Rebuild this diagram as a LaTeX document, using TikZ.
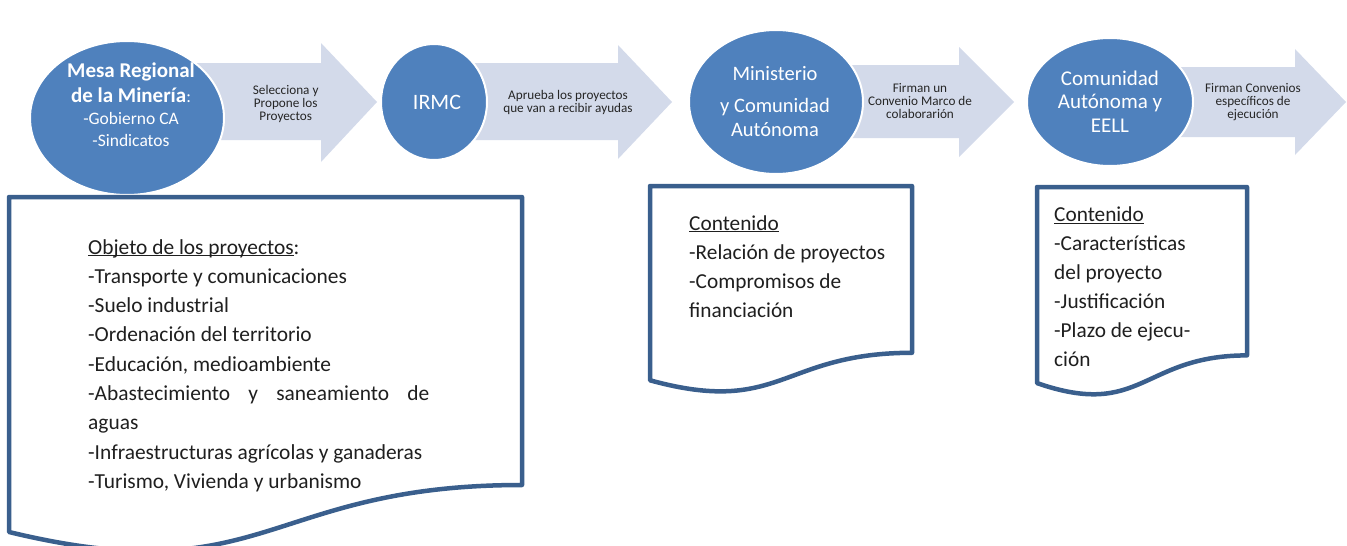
\documentclass[tikz,border=0pt]{standalone}
\usepackage{fontspec}
\setmainfont{Carlito}
\usetikzlibrary{shapes.geometric}
\definecolor{circfill}{HTML}{4F81BD}
\definecolor{arrfill}{HTML}{D3DAEA}
\definecolor{docline}{HTML}{3A5F8D}
\newcommand\myfs[2]{\fontsize{#1}{#2}\selectfont}
\newcommand\myul[1]{\leavevmode\setbox0\hbox{#1}\rlap{\rule[-2.2pt]{\wd0}{1.2pt}}\box0}
\begin{document}
\begin{tikzpicture}[x=1pt,y=-1pt,
  circ/.style={ellipse, fill=circfill, draw=white, line width=2pt, inner sep=0pt},
  ctext/.style={anchor=base, inner sep=0pt, text=white},
  atext/.style={anchor=base, inner sep=0pt, text=black!85},
  arrowbody/.style={fill=arrfill},
  doc/.style={draw=docline, line width=4.5pt, fill=white, line join=round},
  dtext/.style={anchor=base west, inner sep=0pt, text=black!88}]
\useasboundingbox (0,0) rectangle (1347,546);

% block arrows
\fill[arrowbody] (180,63) -- (321,63) -- (321,43) -- (377,102) -- (321,162) -- (321,140) -- (180,140) -- cycle;
\fill[arrowbody] (450,63) -- (618,63) -- (618,45) -- (672,102) -- (618,159) -- (618,140) -- (450,140) -- cycle;
\fill[arrowbody] (830,65) -- (959,65) -- (959,47) -- (1014,102) -- (959,157) -- (959,138) -- (830,138) -- cycle;
\fill[arrowbody] (1160,67) -- (1295,67) -- (1295,49) -- (1346,102) -- (1295,155) -- (1295,137) -- (1160,137) -- cycle;

% circles
\node[circ, minimum width=194pt, minimum height=154pt] (mesa) at (127,118) {};
\node[circ, minimum width=106pt, minimum height=116pt] (irmc) at (434,102) {};
\node[circ, minimum width=174pt, minimum height=144pt] (mini) at (776,102) {};
\node[circ, minimum width=166pt, minimum height=128pt] (ccaa) at (1110,102) {};

% circle texts
\node[ctext, font=\myfs{17.5}{22}] (mesat) at (131,77) {\begin{tabular}[t]{@{}c@{}}\myfs{21}{22}\bfseries Mesa Regional\\[3.5pt] {\myfs{21}{22}\bfseries de la Minería}:\\ -Gobierno CA\\ -Sindicatos\end{tabular}};
\node[ctext, font=\myfs{22}{26}] (irmct) at (437,109) {IRMC};
\node[ctext, font=\myfs{20.5}{23.5}] (minit) at (775,80) {\begin{tabular}[t]{@{}c@{}}Ministerio\\[9pt] y Comunidad\\ Autónoma\end{tabular}};
\node[ctext, font=\myfs{21}{23.5}] (ccaat) at (1110,85) {\begin{tabular}[t]{@{}c@{}}Comunidad\\ Autónoma y\\ EELL\end{tabular}};

% arrow texts
\node[atext, font=\myfs{13.2}{13.3}] (a1t) at (285.7,94.3) {\begin{tabular}[t]{@{}c@{}}Selecciona y\\ Propone los\\ Proyectos\end{tabular}};
\node[atext, font=\myfs{13.2}{13.3}] (a2t) at (568,99) {\begin{tabular}[t]{@{}c@{}}Aprueba los proyectos\\ que van a recibir ayudas\end{tabular}};
\node[atext, font=\myfs{13.2}{13.3}] (a3t) at (920,92.3) {\begin{tabular}[t]{@{}c@{}}Firman un\\ Convenio Marco de\\ colaborarión\end{tabular}};
\node[atext, font=\myfs{13.2}{13.3}] (a4t) at (1253,92.3) {\begin{tabular}[t]{@{}c@{}}Firman Convenios\\ específicos de\\ ejecución\end{tabular}};

% documents
\draw[doc] (9,197) -- (522,197) -- (522,485) .. controls (265.5,485) and (265.5,594) .. (9,532) -- cycle;
\draw[doc] (650,186) -- (912,186) -- (912,352.8) .. controls (781,352.8) and (781,416.3) .. (650,380.3) -- cycle;
\draw[doc] (1037,187) -- (1247,187) -- (1247,355.4) .. controls (1142,355.4) and (1142,419.5) .. (1037,383.1) -- cycle;

% document texts
\node[dtext, font=\myfs{21.4}{29.3}] (objeto) at (88,254) {\begin{tabular}[t]{@{}l@{}}\myul{Objeto de los proyectos}:\\ -Transporte y comunicaciones\\ -Suelo industrial\\ -Ordenación del territorio\\ -Educación, medioambiente\\ \hbox to 341pt{-Abastecimiento\hfill y\hfill saneamiento\hfill de}\\ aguas\\ -Infraestructuras agrícolas y ganaderas\\ -Turismo, Vivienda y urbanismo\end{tabular}};
\node[dtext, font=\myfs{21.3}{29}] (cont1) at (689,230) {\begin{tabular}[t]{@{}l@{}}\myul{Contenido}\\ -Relación de proyectos\\ -Compromisos de\\ financiación\end{tabular}};
\node[dtext, font=\myfs{21.3}{29}] (cont2) at (1054,221.7) {\begin{tabular}[t]{@{}l@{}}\myul{Contenido}\\ -Características\\ del proyecto\\ -Justificación\\ -Plazo de ejecu-\\ ción\end{tabular}};
\end{tikzpicture}
\end{document}
